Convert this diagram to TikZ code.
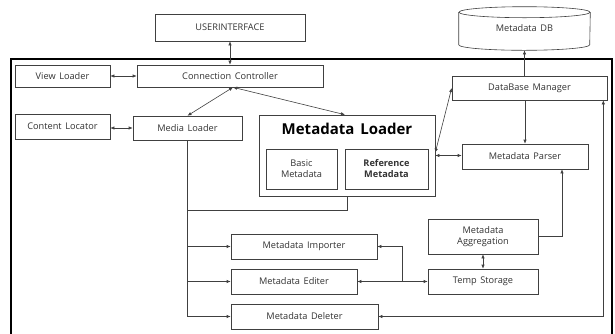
\documentclass[tikz,border=0pt]{standalone}
\usepackage{fontspec}
\setmainfont[WordSpace={1.5,1,1}]{Open Sans}
\usetikzlibrary{arrows.meta,calc}
\definecolor{ink}{HTML}{333333}
\definecolor{wire}{HTML}{404040}
\tikzset{
  box/.style={draw=wire, line width=0.6pt, fill=white, inner sep=1pt,
              font=\fontsize{9.2}{11}\selectfont, text=ink, align=center},
  conn/.style={draw=wire, line width=0.6pt},
  tip/.tip={Latex[length=4pt,width=3.4pt]},
}
\begin{document}
\begin{tikzpicture}[x=1pt, y=-1pt]
\useasboundingbox (0,0) rectangle (615,333);

% outer system frame (runs past the lower edge)
\begin{scope}
\clip (0,0) rectangle (615,333);
\draw[line width=1.6pt] (11,345) -- (11,59) -- (612,59) -- (612,345);
\end{scope}

% boxes
\node[box, minimum width=150pt, minimum height=27pt] (ui)     at (230,27.5)   {USERINTERFACE};
\node[box, minimum width=95pt,  minimum height=22pt] (view)   at (62.5,76)    {View Loader};
\node[box, minimum width=186pt, minimum height=22pt] (cc)     at (230,76)     {Connection Controller};
\node[box, minimum width=95pt,  minimum height=25pt] (cloc)   at (62.5,126.5) {Content Locator};
\node[box, minimum width=109pt, minimum height=24pt] (media)  at (187.5,128)  {Media Loader};
\node[box, minimum width=176pt, minimum height=81pt] (mload)  at (347,155.5)  {};
\node[font=\fontsize{15}{17}\selectfont\bfseries, text=black] (mltitle) at (347,129) {Metadata Loader};
\node[box, minimum width=71pt,  minimum height=40pt] (basic)  at (301.5,169)  {Basic\\Metadata};
\node[box, minimum width=83pt,  minimum height=40pt, font=\fontsize{9.2}{11}\selectfont\bfseries] (ref) at (386.5,169) {Reference\\Metadata};
\node[box, minimum width=155pt, minimum height=24pt] (dbm)    at (529.5,88)   {DataBase Manager};
\node[box, minimum width=126pt, minimum height=25pt] (parser) at (525,156.5)  {Metadata Parser};
\node[box, minimum width=110pt, minimum height=35pt] (agg)    at (483,236.5)  {Metadata\\Aggregation};
\node[box, minimum width=110pt, minimum height=25pt] (temp)   at (483,281.5)  {Temp Storage};
\node[box, minimum width=146pt, minimum height=25pt] (imp)    at (304,246.5)  {Metadata Importer};
\node[box, minimum width=126pt, minimum height=25pt] (edit)   at (294,281.5)  {Metadata Editer};
\node[box, minimum width=147pt, minimum height=25pt] (del)    at (304.5,316.5){Metadata Deleter};

% database cylinder
\node[box, draw=none, fill=none, minimum width=131pt, minimum height=43pt] (db) at (524.5,28.5) {Metadata DB};
\draw[conn] ($(db.north west)+(0,5.5)$) -- ($(db.south west)+(0,-5.5)$)
  arc[start angle=180, end angle=360, x radius=65.5pt, y radius=5.5pt]
  -- ($(db.north east)+(0,5.5)$);
\draw[conn] ($(db.north)+(0,5.5)$) ellipse[x radius=65.5pt, y radius=5.5pt];

% connectors
\draw[conn, tip-tip] (ui) -- (cc);
\draw[conn, tip-tip] (view) -- (cc);
\draw[conn, tip-tip] (cloc.east |- media) -- (media);
\coordinate (ccport) at ($(cc.south)+(3,0)$);
\draw[conn, tip-tip] (media.north) -- (ccport);
\draw[conn, tip-tip] (ccport) -- ($(mload.north)+(-2,0)$);
\draw[conn, tip-tip] ($(mload.east)+(0,-3)$) -- (dbm.west);
\draw[conn, tip-tip] (mload.east) -- (mload.east -| parser.west);
\draw[conn, -tip] (dbm.north -| db.south) -- (db.south);
\draw[conn, -tip] (dbm.south -| parser.north) -- (parser.north);
\draw[conn, -tip] (agg.east) -| ($(parser.south)+(37,0)$);
\draw[conn, tip-tip] (agg) -- (temp);
\draw[conn, tip-tip] (edit.east) -- (temp.west);
\coordinate (split) at (402,281.5);
\draw[conn, -tip] (split) |- (imp.east);
\draw[conn, tip-tip] (del.east) -| ($(dbm.south east)+(-4,0)$);

% media loader bus
\coordinate (busend) at (del.west -| media.south);
\draw[conn] (media.south) -- (busend);
\draw[conn] (media.south |- 0,210) -| (mload.south);
\draw[conn, -tip] (imp.west -| media.south) -- (imp.west);
\draw[conn, -tip] (edit.west -| media.south) -- (edit.west);
\draw[conn, -tip] (busend) -- (del.west);
\end{tikzpicture}
\end{document}
